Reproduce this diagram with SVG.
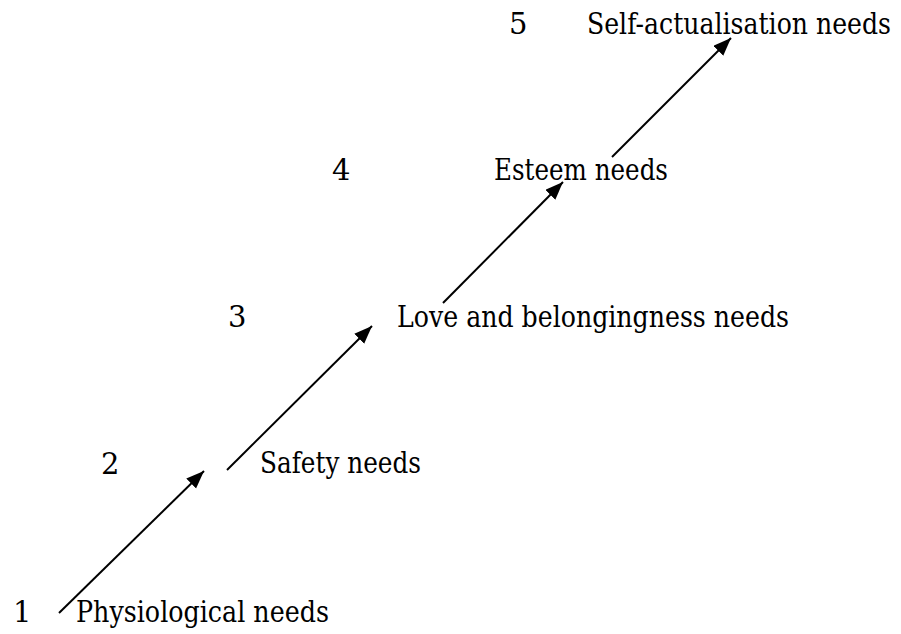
<svg xmlns="http://www.w3.org/2000/svg" width="901" height="634" viewBox="0 0 901 634">
<style>
.t{font-family:'DejaVu Serif',serif;font-size:29px;fill:#000}
.c{stroke:#000;stroke-width:2;fill:none;marker-end:url(#ah)}
</style>
<defs>
<marker id="ah" markerUnits="userSpaceOnUse" markerWidth="20" markerHeight="16" refX="18" refY="7" orient="auto">
<path d="M0,0 L18,7 L0,14 z" fill="#000"/>
</marker>
</defs>
<rect width="901" height="634" fill="#fff"/>
<g class="t">
<g id="n1"><text x="13" y="622">1</text><text x="76" y="622" textLength="253" lengthAdjust="spacingAndGlyphs">Physiological needs</text></g>
<g id="n2"><text x="101" y="474">2</text><text x="260" y="473" textLength="161" lengthAdjust="spacingAndGlyphs">Safety needs</text></g>
<g id="n3"><text x="228" y="327">3</text><text x="397" y="327" textLength="392" lengthAdjust="spacingAndGlyphs">Love and belongingness needs</text></g>
<g id="n4"><text x="332" y="180">4</text><text x="494" y="180" textLength="174" lengthAdjust="spacingAndGlyphs">Esteem needs</text></g>
<g id="n5"><text x="509" y="34">5</text><text x="587" y="34" textLength="304" lengthAdjust="spacingAndGlyphs">Self-actualisation needs</text></g>
</g>
<g id="connectors">
<line class="c" x1="59" y1="613" x2="204" y2="471"/>
<line class="c" x1="227" y1="470" x2="372" y2="326"/>
<line class="c" x1="443" y1="303" x2="563" y2="182"/>
<line class="c" x1="612" y1="157" x2="731" y2="38"/>
</g>
</svg>
